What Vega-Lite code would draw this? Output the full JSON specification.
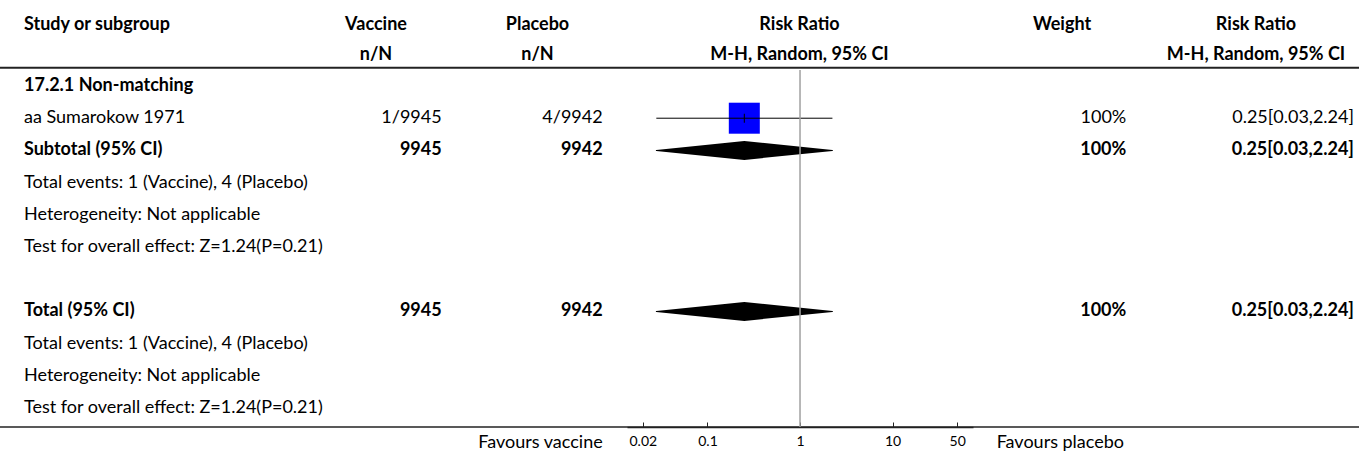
{
  "$schema": "https://vega.github.io/schema/vega-lite/v6.json",
  "width": 1359,
  "height": 427,
  "autosize": {"type": "none"},
  "padding": {"left": 0, "top": 0, "right": 0, "bottom": 26},
  "background": "white",
  "config": {"view": {"stroke": null}, "text": {"font": "Lato", "fontSize": 18, "color": "#000"}},
  "datasets": {
    "cells": [
      {"row": -1.894, "col": 0, "kind": "head", "text": "Study or subgroup"},
      {"row": -1.894, "col": 1, "kind": "head", "text": "Vaccine"},
      {"row": -1.894, "col": 2, "kind": "head", "text": "Placebo"},
      {"row": -1.894, "col": 3, "kind": "head", "text": "Risk Ratio"},
      {"row": -1.894, "col": 4, "kind": "head", "text": "Weight"},
      {"row": -1.894, "col": 5, "kind": "head", "text": "Risk Ratio"},
      {"row": -0.963, "col": 1, "kind": "head", "text": "n/N"},
      {"row": -0.963, "col": 2, "kind": "head", "text": "n/N"},
      {"row": -0.963, "col": 3, "kind": "head", "text": "M-H, Random, 95% CI"},
      {"row": -0.963, "col": 5, "kind": "head", "text": "M-H, Random, 95% CI"},
      {"row": 0, "col": 0, "kind": "group", "text": "17.2.1 Non-matching"},
      {"row": 1, "col": 0, "kind": "study", "text": "aa Sumarokow 1971"},
      {"row": 1, "col": 1, "kind": "study", "text": "1/9945"},
      {"row": 1, "col": 2, "kind": "study", "text": "4/9942"},
      {"row": 1, "col": 4, "kind": "study", "text": "100%"},
      {"row": 1, "col": 5, "kind": "study", "text": "0.25[0.03,2.24]"},
      {"row": 2, "col": 0, "kind": "subtotal", "text": "Subtotal (95% CI)"},
      {"row": 2, "col": 1, "kind": "subtotal", "text": "9945"},
      {"row": 2, "col": 2, "kind": "subtotal", "text": "9942"},
      {"row": 2, "col": 4, "kind": "subtotal", "text": "100%"},
      {"row": 2, "col": 5, "kind": "subtotal", "text": "0.25[0.03,2.24]"},
      {"row": 3, "col": 0, "kind": "note", "text": "Total events: 1 (Vaccine), 4 (Placebo)"},
      {"row": 4, "col": 0, "kind": "note", "text": "Heterogeneity: Not applicable"},
      {"row": 5, "col": 0, "kind": "note", "text": "Test for overall effect: Z=1.24(P=0.21)"},
      {"row": 7, "col": 0, "kind": "total", "text": "Total (95% CI)"},
      {"row": 7, "col": 1, "kind": "total", "text": "9945"},
      {"row": 7, "col": 2, "kind": "total", "text": "9942"},
      {"row": 7, "col": 4, "kind": "total", "text": "100%"},
      {"row": 7, "col": 5, "kind": "total", "text": "0.25[0.03,2.24]"},
      {"row": 8, "col": 0, "kind": "note", "text": "Total events: 1 (Vaccine), 4 (Placebo)"},
      {"row": 9, "col": 0, "kind": "note", "text": "Heterogeneity: Not applicable"},
      {"row": 10, "col": 0, "kind": "note", "text": "Test for overall effect: Z=1.24(P=0.21)"}
    ],
    "effects": [
      {"row": 1, "kind": "study", "rr": 0.25, "lo": 0.028, "hi": 2.24},
      {"row": 2, "kind": "subtotal", "rr": 0.25, "lo": 0.028, "hi": 2.24},
      {"row": 7, "kind": "total", "rr": 0.25, "lo": 0.028, "hi": 2.24}
    ],
    "favours": [
      {"side": "vaccine", "text": "Favours vaccine"},
      {"side": "placebo", "text": "Favours placebo"}
    ]
  },
  "resolve": {"scale": {"x": "independent"}, "axis": {"x": "independent"}},
  "layer": [
    {
      "data": {"values": [{}]},
      "mark": {"type": "rule", "color": "#222", "strokeWidth": 2},
      "encoding": {
        "y": {"datum": -0.568, "type": "quantitative", "scale": {"domain": [-2.671, 10.59], "reverse": true, "nice": false, "zero": false}, "axis": null}
      }
    },
    {
      "data": {"values": [{}]},
      "mark": {"type": "rule", "color": "#222", "strokeWidth": 1.5},
      "encoding": {
        "y": {"datum": 10.59, "type": "quantitative", "scale": {"domain": [-2.671, 10.59], "reverse": true, "nice": false, "zero": false}, "axis": null}
      }
    },
    {
      "data": {"name": "effects"},
      "transform": [{"filter": "datum.kind == 'study'"}],
      "mark": {"type": "point", "shape": "square", "size": 961, "filled": true, "color": "#0000ff", "opacity": 1, "strokeWidth": 0},
      "encoding": {
        "x": {"field": "rr", "type": "quantitative", "scale": {"type": "log", "domain": [0.0135, 74], "range": [627, 973], "nice": false}, "axis": null},
        "y": {"field": "row", "type": "quantitative", "scale": {"domain": [-2.671, 10.59], "reverse": true, "nice": false, "zero": false}, "axis": null}
      }
    },
    {
      "data": {"name": "effects"},
      "transform": [{"filter": "datum.kind == 'study'"}],
      "mark": {"type": "rule", "color": "#000", "strokeWidth": 1},
      "encoding": {
        "x": {"field": "lo", "type": "quantitative", "scale": {"type": "log", "domain": [0.0135, 74], "range": [627, 973], "nice": false}, "axis": null},
        "x2": {"field": "hi"},
        "y": {"field": "row", "type": "quantitative", "scale": {"domain": [-2.671, 10.59], "reverse": true, "nice": false, "zero": false}, "axis": null}
      }
    },
    {
      "data": {"name": "effects"},
      "transform": [{"filter": "datum.kind == 'study'"}],
      "mark": {"type": "tick", "orient": "vertical", "size": 9, "thickness": 1, "color": "#000", "opacity": 1},
      "encoding": {
        "x": {"field": "rr", "type": "quantitative", "scale": {"type": "log", "domain": [0.0135, 74], "range": [627, 973], "nice": false}, "axis": null},
        "y": {"field": "row", "type": "quantitative", "scale": {"domain": [-2.671, 10.59], "reverse": true, "nice": false, "zero": false}, "axis": null}
      }
    },
    {
      "data": {"name": "effects"},
      "transform": [
        {"filter": "datum.kind != 'study'"},
        {"fold": ["lo", "rr", "hi"], "as": ["pt", "val"]}
      ],
      "mark": {"type": "trail", "color": "#000", "opacity": 1},
      "encoding": {
        "x": {"field": "val", "type": "quantitative", "scale": {"type": "log", "domain": [0.0135, 74], "range": [627, 973], "nice": false}, "axis": null},
        "y": {"field": "row", "type": "quantitative", "scale": {"domain": [-2.671, 10.59], "reverse": true, "nice": false, "zero": false}, "axis": null},
        "size": {"condition": {"test": "datum.pt == 'rr'", "value": 19}, "value": 0},
        "detail": {"field": "row", "type": "nominal"},
        "order": {"field": "val", "type": "quantitative"}
      }
    },
    {
      "data": {"values": [{}]},
      "mark": {"type": "rule", "color": "#a0a0a0", "strokeWidth": 1.5},
      "encoding": {
        "x": {"datum": 1, "type": "quantitative",
              "scale": {"type": "log", "domain": [0.0135, 74], "range": [627, 973], "nice": false},
              "axis": {"values": [0.02, 0.1, 1, 10, 50], "format": "~g", "title": null, "grid": false,
                       "domainColor": "#222", "domainWidth": 1.5, "tickColor": "#222", "tickSize": -5, "tickWidth": 1,
                       "labelFont": "Lato", "labelFontSize": 14, "labelColor": "#000", "labelPadding": 12,
                       "labelFlush": false, "labelOverlap": false}},
        "y": {"datum": -0.497, "type": "quantitative", "scale": {"domain": [-2.671, 10.59], "reverse": true, "nice": false, "zero": false}, "axis": null},
        "y2": {"datum": 10.59}
      }
    },
    {
      "data": {"name": "cells"},
      "transform": [{"filter": "datum.kind == 'head' && datum.col > 0"}],
      "mark": {"type": "text", "align": "center", "baseline": "middle", "fontWeight": "bold"},
      "encoding": {
        "x": {"field": "col", "type": "quantitative", "scale": {"domain": [1, 2, 3, 4, 5], "range": [376, 537.5, 799.5, 1062, 1256], "nice": false, "zero": false}, "axis": null},
        "y": {"field": "row", "type": "quantitative", "scale": {"domain": [-2.671, 10.59], "reverse": true, "nice": false, "zero": false}, "axis": null},
        "text": {"field": "text"}
      }
    },
    {
      "data": {"name": "cells"},
      "transform": [{"filter": "datum.kind != 'head' || datum.col == 0"}],
      "mark": {"type": "text", "baseline": "middle",
               "align": {"expr": "datum.col == 0 ? 'left' : 'right'"},
               "fontWeight": {"expr": "datum.kind == 'study' || datum.kind == 'note' ? 'normal' : 'bold'"}},
      "encoding": {
        "x": {"field": "col", "type": "quantitative", "scale": {"domain": [0, 1, 2, 4, 5], "range": [24, 441.7, 602.7, 1126.3, 1354], "nice": false, "zero": false}, "axis": null},
        "y": {"field": "row", "type": "quantitative", "scale": {"domain": [-2.671, 10.59], "reverse": true, "nice": false, "zero": false}, "axis": null},
        "text": {"field": "text"}
      }
    },
    {
      "data": {"name": "favours"},
      "mark": {"type": "text", "baseline": "middle",
               "align": {"expr": "datum.side == 'vaccine' ? 'right' : 'left'"}},
      "encoding": {
        "x": {"field": "side", "type": "nominal", "scale": {"type": "point", "domain": ["vaccine", "placebo"], "range": [602.7, 996.7], "padding": 0}, "axis": null},
        "y": {"datum": 11.08, "type": "quantitative", "scale": {"domain": [-2.671, 10.59], "reverse": true, "nice": false, "zero": false}, "axis": null},
        "text": {"field": "text"}
      }
    }
  ]
}
